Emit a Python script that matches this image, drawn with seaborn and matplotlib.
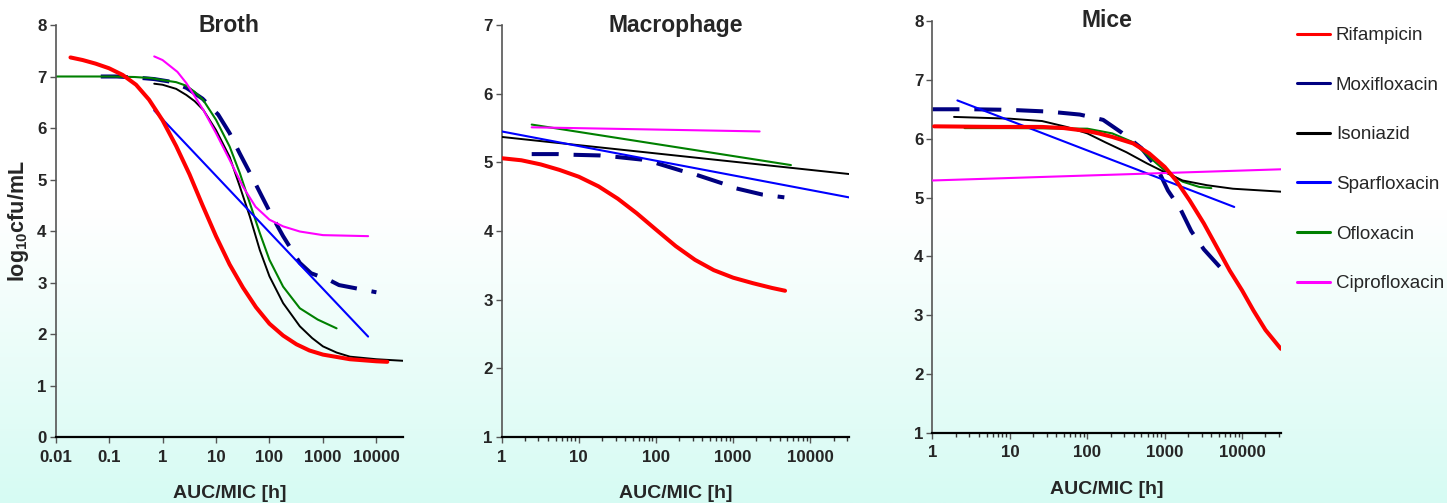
import numpy as np
import pandas as pd
import matplotlib
matplotlib.use("Agg")
import matplotlib.pyplot as plt
import seaborn as sns
from matplotlib.lines import Line2D
from matplotlib.ticker import LogLocator, NullLocator, NullFormatter, FixedLocator, FixedFormatter

sns.set_style("ticks")
plt.rcParams['font.family'] = ['Liberation Sans', 'DejaVu Sans']
plt.rcParams['mathtext.default'] = 'regular'

drugs = ["Rifampicin", "Moxifloxacin", "Isoniazid", "Sparfloxacin", "Ofloxacin", "Ciprofloxacin"]
drug_colors = ["#ff0000", "#000080", "#000000", "#0000ff", "#008000", "#ff00ff"]

# ---- Broth ----
broth_rif_x = [0.019, 0.032, 0.056, 0.1, 0.18, 0.32, 0.56, 1, 1.8, 3.2, 5.6, 10, 18, 32, 56,
               100, 180, 320, 560, 1000, 3200, 10000, 16000]
broth_rif_y = [7.37, 7.32, 7.25, 7.16, 7.03, 6.84, 6.55, 6.15, 5.65, 5.1, 4.5, 3.9, 3.35, 2.9, 2.52,
               2.2, 1.97, 1.8, 1.68, 1.6, 1.51, 1.47, 1.46]
broth_mox_x = [0.07, 0.14, 0.32, 0.7, 1.4, 2.8, 5.6, 11, 18, 28, 50, 70, 110, 180, 370, 600, 1300, 2000, 4000, 10000]
broth_mox_y = [7.0, 7.0, 6.98, 6.95, 6.9, 6.78, 6.57, 6.26, 5.9, 5.5, 5.0, 4.7, 4.3, 3.9, 3.38, 3.18, 3.05, 2.95, 2.89, 2.81]
broth_inh_x = [0.7, 1, 1.8, 2.8, 4, 5.8, 10, 18, 28, 43, 66, 100, 180, 370, 630, 1000, 1800, 3200, 10000, 31600]
broth_inh_y = [6.86, 6.84, 6.76, 6.64, 6.52, 6.35, 5.96, 5.44, 4.86, 4.28, 3.63, 3.12, 2.6, 2.15, 1.92, 1.76, 1.64, 1.56, 1.51, 1.48]
broth_spx_x = [0.7, 7000]
broth_spx_y = [6.34, 1.95]
broth_ofx_x = [0.01, 0.1, 0.3, 0.6, 1, 1.8, 2.8, 4, 5.8, 10, 18, 28, 43, 66, 100, 180, 370, 800, 1800]
broth_ofx_y = [7.0, 7.0, 6.99, 6.97, 6.93, 6.89, 6.82, 6.7, 6.54, 6.16, 5.64, 5.12, 4.54, 3.96, 3.44, 2.92, 2.5, 2.28, 2.11]
broth_cip_x = [0.7, 1, 1.9, 2.8, 5.8, 10, 18, 32, 55, 100, 180, 370, 1000, 7000]
broth_cip_y = [7.39, 7.32, 7.09, 6.87, 6.35, 5.9, 5.38, 4.86, 4.47, 4.22, 4.09, 3.99, 3.92, 3.9]

# ---- Macrophage ----
mac_rif_x = [1, 1.8, 3.2, 5.6, 10, 18, 32, 56, 100, 180, 320, 560, 1000, 1800, 3200, 4700]
mac_rif_y = [5.06, 5.03, 4.97, 4.89, 4.79, 4.65, 4.47, 4.26, 4.02, 3.78, 3.58, 3.43, 3.32, 3.24, 3.17, 3.13]
mac_mox_x = [2.45, 5.4, 8.5, 19, 30, 65, 100, 210, 330, 740, 1100, 2400, 4600]
mac_mox_y = [5.12, 5.12, 5.11, 5.10, 5.08, 5.04, 4.99, 4.88, 4.82, 4.69, 4.62, 4.53, 4.49]
mac_inh_x = [1, 31600]
mac_inh_y = [5.37, 4.83]
mac_spx_x = [1, 31600]
mac_spx_y = [5.45, 4.49]
mac_ofx_x = [2.45, 5600]
mac_ofx_y = [5.55, 4.96]
mac_cip_x = [2.45, 2200]
mac_cip_y = [5.51, 5.45]

# ---- Mice ----
mice_rif_x = [1.05, 7, 26, 50, 100, 140, 210, 390, 630, 1000, 1400, 2100, 3200, 4700, 6900,
              10000, 14000, 20000, 31600]
mice_rif_y = [6.21, 6.2, 6.2, 6.18, 6.13, 6.09, 6.03, 5.92, 5.75, 5.52, 5.29, 4.95, 4.56, 4.16, 3.76,
              3.42, 3.08, 2.75, 2.43]
mice_mox_x = [1, 3.2, 10, 32, 80, 160, 280, 500, 800, 1100, 1600, 2200, 3200, 5400]
mice_mox_y = [6.5, 6.5, 6.49, 6.46, 6.41, 6.32, 6.1, 5.84, 5.5, 5.12, 4.8, 4.43, 4.12, 3.79]
mice_inh_x = [1.9, 10, 26, 54, 100, 170, 320, 590, 1000, 1700, 3500, 7600, 31600]
mice_inh_y = [6.37, 6.34, 6.3, 6.2, 6.09, 5.94, 5.77, 5.58, 5.43, 5.29, 5.21, 5.15, 5.1]
mice_spx_x = [2.1, 7900]
mice_spx_y = [6.65, 4.84]
mice_ofx_x = [2.6, 10, 100, 210, 390, 710, 1000, 1700, 2800, 4000]
mice_ofx_y = [6.18, 6.18, 6.17, 6.09, 5.94, 5.63, 5.46, 5.27, 5.18, 5.16]
mice_cip_x = [1, 31600]
mice_cip_y = [5.29, 5.48]

series = {
    "Broth": [broth_rif_x, broth_rif_y, broth_mox_x, broth_mox_y, broth_inh_x, broth_inh_y,
              broth_spx_x, broth_spx_y, broth_ofx_x, broth_ofx_y, broth_cip_x, broth_cip_y],
    "Macrophage": [mac_rif_x, mac_rif_y, mac_mox_x, mac_mox_y, mac_inh_x, mac_inh_y,
                   mac_spx_x, mac_spx_y, mac_ofx_x, mac_ofx_y, mac_cip_x, mac_cip_y],
    "Mice": [mice_rif_x, mice_rif_y, mice_mox_x, mice_mox_y, mice_inh_x, mice_inh_y,
             mice_spx_x, mice_spx_y, mice_ofx_x, mice_ofx_y, mice_cip_x, mice_cip_y],
}

rows = []
for panel, arrs in series.items():
    for i, drug in enumerate(drugs):
        for xv, yv in zip(arrs[2 * i], arrs[2 * i + 1]):
            rows.append((panel, drug, xv, yv))
df = pd.DataFrame(rows, columns=["panel", "drug", "auc", "cfu"])

# axis settings per panel
broth_xticks = [0.01, 0.1, 1, 10, 100, 1000, 10000]
other_xticks = [1, 10, 100, 1000, 10000]
x_max = 31623
panels = [
    ("Broth", [0.0384, 0.1312, 0.2402, 0.8191], (0.01, x_max), (0, 8), broth_xticks, 0.983),
    ("Macrophage", [0.3467, 0.1312, 0.2400, 0.8191], (1, x_max), (1, 7), other_xticks, 0.983),
    ("Mice", [0.6444, 0.1392, 0.2408, 0.8191], (1, x_max), (1, 8), other_xticks, 0.985),
]

style = {
    "Rifampicin": dict(lw=2.9, ls="-", z=6),
    "Moxifloxacin": dict(lw=2.9, ls=(0, (6.7, 3.7)), z=1),
    "Isoniazid": dict(lw=1.4, ls="-", z=3),
    "Sparfloxacin": dict(lw=1.5, ls="-", z=4),
    "Ofloxacin": dict(lw=1.5, ls="-", z=2),
    "Ciprofloxacin": dict(lw=1.5, ls="-", z=5),
}

fig = plt.figure(figsize=(14.47, 5.03), dpi=100)
fig.patch.set_facecolor("white")

# light gradient background (white at top, pale cyan at bottom)
bg = fig.add_axes([0, 0, 1, 1], zorder=-10)
yy = np.linspace(0, 1, 300)[:, None]
t = np.clip((0.58 - yy) / 0.58, 0, 1)
top = np.array([1.0, 1.0, 1.0])
bot = np.array([214, 251, 243]) / 255
img = (top * (1 - t) + bot * t)[:, None, :].repeat(2, axis=1)
bg.imshow(img, extent=[0, 1, 0, 1], origin="lower", aspect="auto")
bg.axis("off")

bold = dict(family=['Liberation Sans', 'DejaVu Sans'], weight="bold")

for name, rect, xlim, ylim, xt, title_y in panels:
    ax = fig.add_axes(rect)
    ax.patch.set_alpha(0)
    sub = df[df["panel"] == name]
    for drug, col in zip(drugs, drug_colors):
        st = style[drug]
        sns.lineplot(data=sub[sub["drug"] == drug], x="auc", y="cfu", ax=ax, color=col,
                     lw=st["lw"], ls=st["ls"], zorder=st["z"], legend=False)
    ax.set_xscale("log")
    ax.set_xlim(*xlim)
    ax.set_ylim(*ylim)
    ax.xaxis.set_major_locator(FixedLocator(xt))
    ax.xaxis.set_major_formatter(FixedFormatter([f"{v:g}" for v in xt]))
    if name == "Broth":
        ax.xaxis.set_minor_locator(NullLocator())
    else:
        ax.xaxis.set_minor_locator(LogLocator(base=10, subs=np.arange(2, 10)))
    ax.xaxis.set_minor_formatter(NullFormatter())
    ax.set_yticks(range(ylim[0], ylim[1] + 1))
    sns.despine(ax=ax)
    ax.spines["left"].set_color("#555555")
    ax.spines["left"].set_linewidth(1.2)
    ax.spines["bottom"].set_color("#000000")
    ax.spines["bottom"].set_linewidth(1.6)
    ax.tick_params(axis="both", which="major", direction="out", length=4.5, width=1.0,
                   color="#555555", labelsize=12.2, pad=2)
    ax.tick_params(axis="x", which="major", pad=4.5)
    ax.tick_params(axis="x", which="minor", direction="out", length=3.2, width=1.0, color="#333333")
    for lab in ax.get_xticklabels() + ax.get_yticklabels():
        lab.set_fontweight("bold")
    ax.text(0.5, title_y, name, transform=ax.transAxes, ha="center", va="baseline",
            fontsize=16.5, **bold)
    ax.set_xlabel("")
    ax.set_ylabel("")
    ax.text(0.5, -0.149, "AUC/MIC [h]", transform=ax.transAxes, ha="center", va="baseline",
            fontsize=14, **bold)
    if name == "Broth":
        ax.text(-0.108, 0.524, "log$_{10}$cfu/mL", transform=ax.transAxes, ha="center",
                va="center", rotation=90, fontsize=15.5, **bold)

handles = [Line2D([], [], color=c, lw=2.2) for c in drug_colors]
fig.legend(handles, drugs, loc="upper left", bbox_to_anchor=(0.896, 0.946), frameon=False,
           prop=dict(family="Liberation Sans", size=13.5), handlelength=1.8, handletextpad=0.3,
           labelspacing=1.73, borderpad=0, borderaxespad=0)

fig.savefig("out.png", dpi=100, facecolor=fig.get_facecolor())
